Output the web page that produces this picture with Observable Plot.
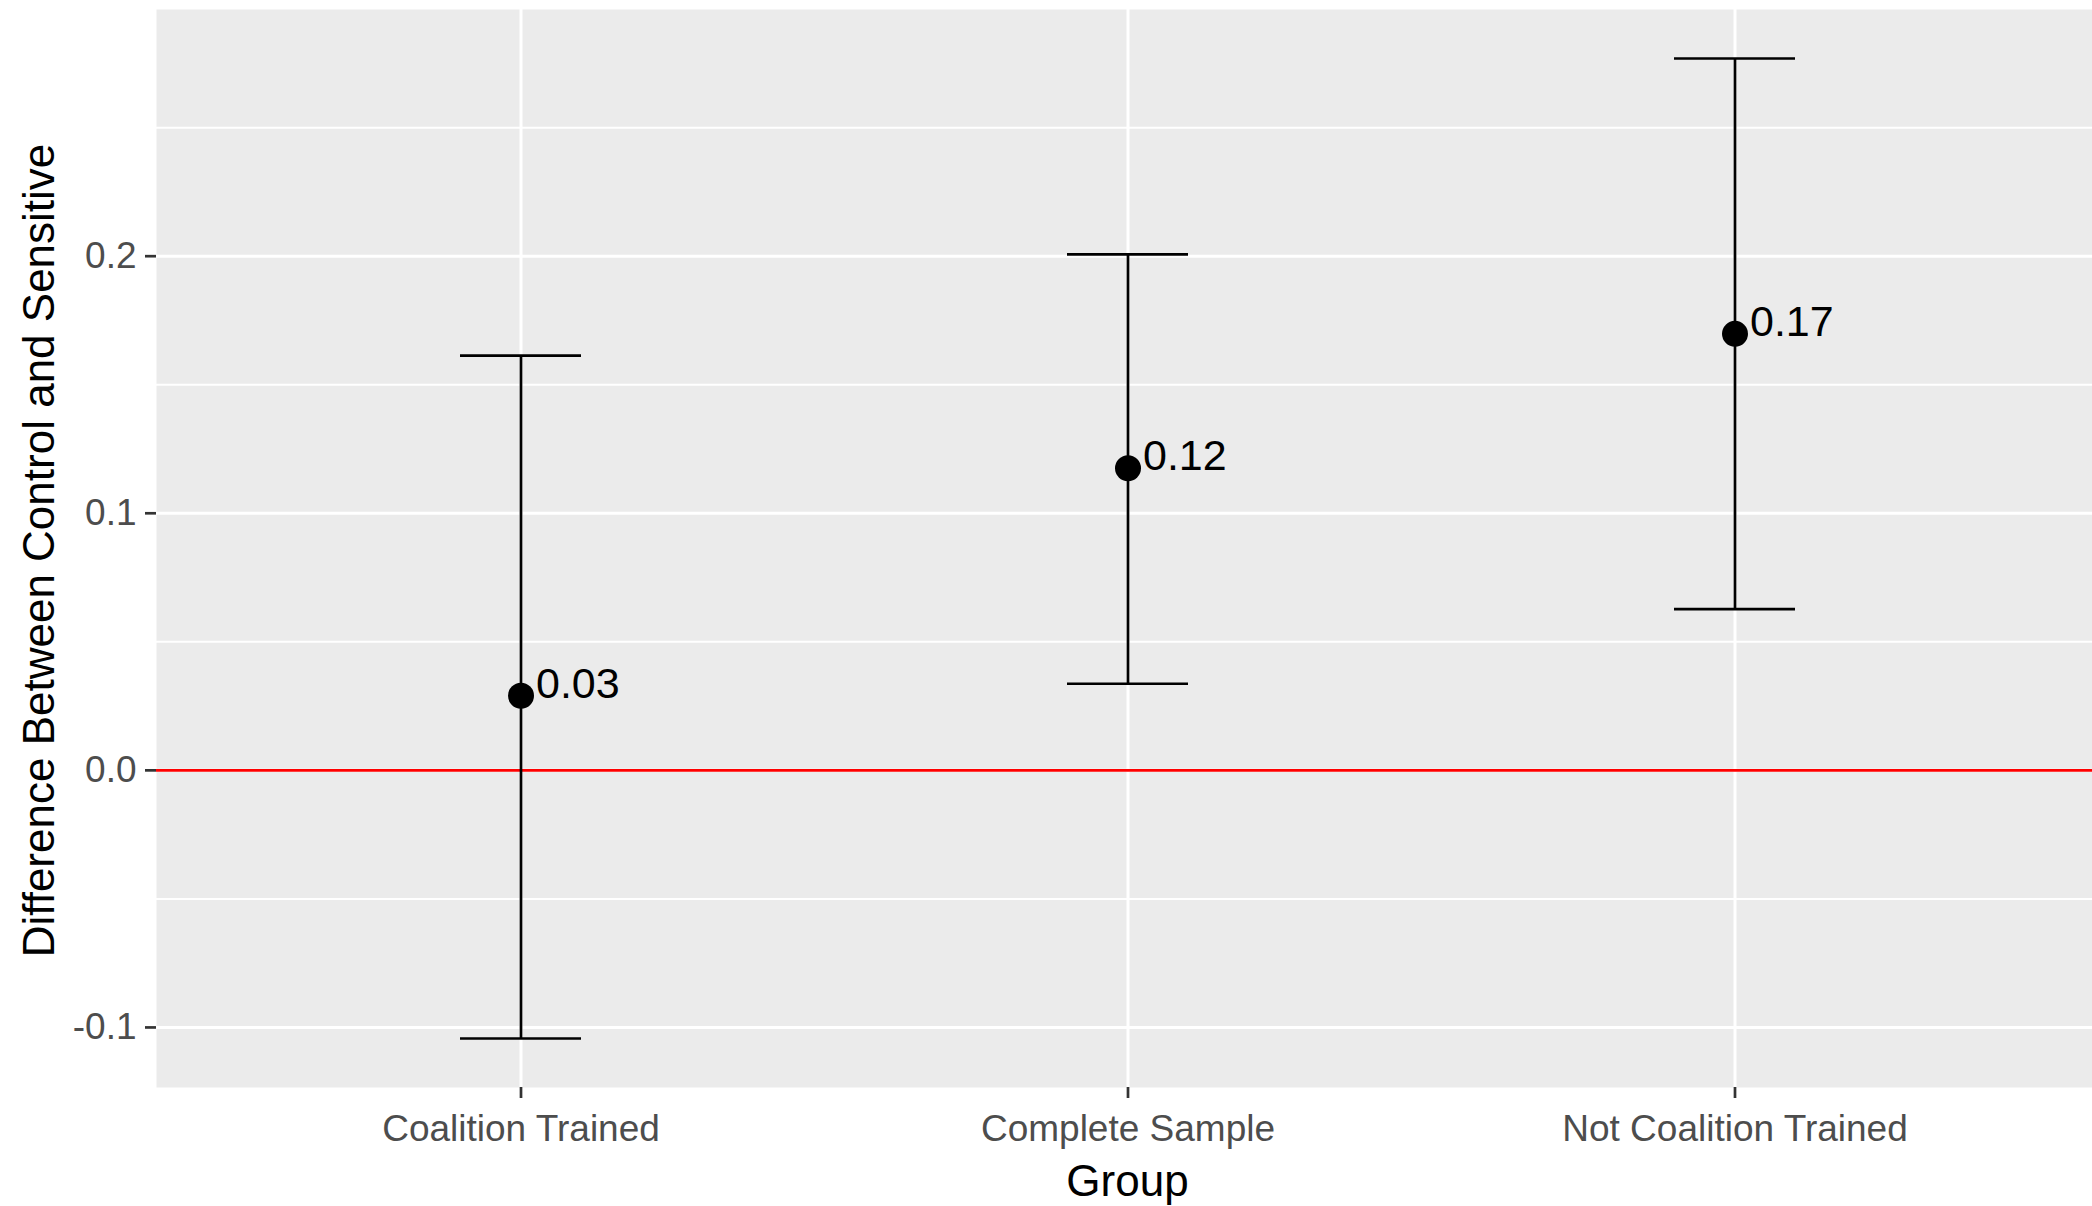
<!DOCTYPE html>
<html>
<head>
<meta charset="utf-8">
<script src="https://cdn.jsdelivr.net/npm/d3@7"></script>
<script src="https://cdn.jsdelivr.net/npm/@observablehq/plot@0.6"></script>
<style>
  html, body { margin: 0; padding: 0; background: white; overflow: hidden; }
  #chart svg { display: block; }
</style>
</head>
<body>
<div id="chart"></div>
<script>
// Data
const groups = ["Coalition Trained", "Complete Sample", "Not Coalition Trained"];
const estimates = [0.029, 0.1175, 0.1698];
const lower = [-0.1043, 0.0337, 0.0627];
const upper = [0.1613, 0.2007, 0.2769];
const yTicks = [-0.1, 0.0, 0.1, 0.2];
const yMinor = [-0.05, 0.05, 0.15, 0.25];
const xTitle = "Group";
const yTitle = "Difference Between Control and Sensitive";

const data = groups.map((g, i) => ({group: g, est: estimates[i], lo: lower[i], hi: upper[i]}));

// ggplot-style 5% expansion of the continuous y range
const yMin = d3.min(lower), yMax = d3.max(upper);
const pad = (yMax - yMin) * 0.05;

const W = 2092, H = 1206;
const mL = 156, mT = 9, mB = 119, mR = 0;
const frameW = W - mL - mR, frameH = H - mT - mB;
const tickLen = 11;
const font = "'Liberation Sans', Arial, sans-serif";

const chart = Plot.plot({
  width: W,
  height: H,
  marginLeft: mL,
  marginTop: mT,
  marginBottom: mB,
  marginRight: mR,
  style: {fontFamily: font, background: "white", maxWidth: "none"},
  x: {type: "band", domain: groups, paddingInner: 0.8, paddingOuter: 0.5, range: [mL, 2100], axis: null},
  y: {domain: [yMin - pad, yMax + pad], axis: null},
  marks: [
    Plot.frame({fill: "#EBEBEB", stroke: null}),
    Plot.ruleY(yMinor, {stroke: "white", strokeWidth: 2}),
    Plot.ruleY(yTicks, {stroke: "white", strokeWidth: 3}),
    Plot.ruleX(groups, {x: d => d, stroke: "white", strokeWidth: 3}),
    Plot.ruleY([0], {stroke: "#FF0000", strokeWidth: 2.7}),
    Plot.ruleX(data, {x: "group", y1: "lo", y2: "hi", stroke: "black", strokeWidth: 2.7}),
    Plot.tickY(data, {x: "group", y: "hi", stroke: "black", strokeWidth: 2.7}),
    Plot.tickY(data, {x: "group", y: "lo", stroke: "black", strokeWidth: 2.7}),
    Plot.dot(data, {x: "group", y: "est", r: 13, fill: "black", stroke: null}),
    Plot.text(data, {x: "group", y: "est", text: d => d.est.toFixed(2), textAnchor: "start", lineAnchor: "bottom", dx: 15, dy: 2, fontSize: 43, fill: "black"}),
    // y axis: ticks and labels
    Plot.ruleY(yTicks, {stroke: "#333333", strokeWidth: 2.7, insetLeft: -tickLen, insetRight: frameW}),
    Plot.text(yTicks, {y: d => d, frameAnchor: "left", textAnchor: "end", dx: -(tickLen + 9), text: d => d.toFixed(1), fontSize: 37, fill: "#4D4D4D"}),
    // x axis: ticks and labels
    Plot.ruleX(groups, {x: d => d, stroke: "#333333", strokeWidth: 2.7, insetTop: frameH, insetBottom: -tickLen}),
    Plot.text(groups, {x: d => d, frameAnchor: "bottom", lineAnchor: "top", dy: tickLen + 16, text: d => d, fontSize: 37, fill: "#4D4D4D"}),
    // axis titles
    Plot.text([xTitle], {frameAnchor: "bottom", textAnchor: "middle", lineAnchor: "bottom", dx: 3, dy: 108, fontSize: 44, fill: "black"}),
    Plot.text([yTitle], {frameAnchor: "left", textAnchor: "middle", lineAnchor: "middle", rotate: -90, dx: -117, dy: 2, fontSize: 44, fill: "black"})
  ]
});

document.getElementById("chart").appendChild(chart);
</script>
</body>
</html>
